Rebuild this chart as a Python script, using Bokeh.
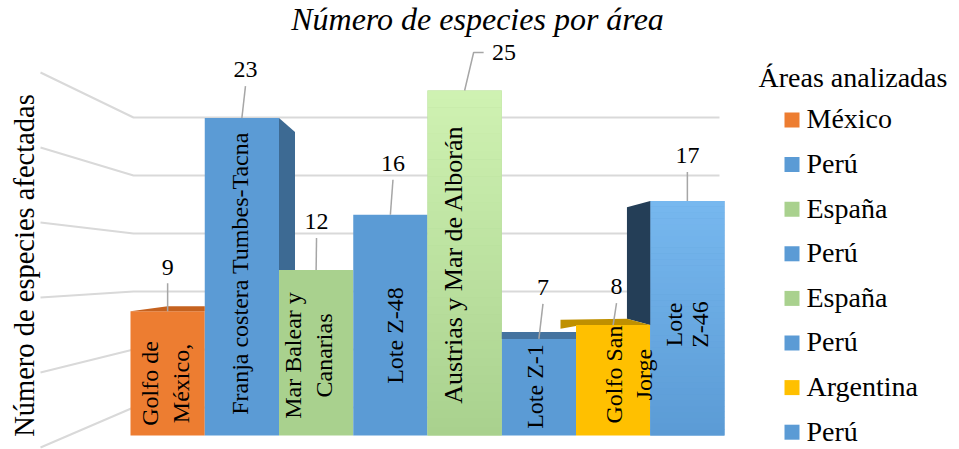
import math
from bokeh.plotting import figure
from bokeh.models import Range1d, ColumnDataSource
from bokeh.core.properties import value
from bokeh.embed import file_html
from bokeh.resources import INLINE

# ---------------- data ----------------
categories = ["Golfo de México,", "Franja costera Tumbes-Tacna", "Mar Balear y Canarias",
              "Lote Z-48", "Austrias y Mar de Alborán", "Lote Z-1", "Golfo San Jorge", "Lote Z-46"]
bar_label_lines = [["Golfo de", "México,"], ["Franja costera Tumbes-Tacna"], ["Mar Balear y", "Canarias"],
                   ["Lote Z-48"], ["Austrias y Mar de Alborán"], ["Lote Z-1"], ["Golfo San", "Jorge"],
                   ["Lote", "Z-46"]]
countries = ["México", "Perú", "España", "Perú", "España", "Perú", "Argentina", "Perú"]
values = [9, 23, 12, 16, 25, 7, 8, 17]
grid_values = [0, 5, 10, 15, 20, 25]
title_text = "Número de especies por área"
y_title_text = "Número de especies afectadas"
legend_title_text = "Áreas analizadas"

# ---------------- style ----------------
country_colors = {"México": "#ED7D31", "Perú": "#5B9BD5", "España": "#A9D18E", "Argentina": "#FFC000"}
light_top = [None, None, None, None, "#CFF2B2", None, None, "#77B8EF"]
SERIF = value("Liberation Serif")
W, H = 959, 449
X0, BW = 130.0, 74.25      # px of first bar left edge, px per bar
Y0, SY = 435.0, 13.8       # px of baseline, px per unit
BASE_CORR = 0.34           # renderer baseline correction (em)


def X(px):
    return (px - X0) / BW


def Y(py):
    return (Y0 - py) / SY


def dx(px):
    return px / BW


def dy(px):
    return px / SY


p = figure(width=W, height=H, x_range=Range1d(X(0), X(W)), y_range=Range1d(Y(H), Y(0)),
           output_backend="svg", toolbar_location=None, min_border=0,
           x_axis_location=None, y_axis_location=None)
p.outline_line_color = None
p.background_fill_color = "white"
p.border_fill_color = "white"
p.grid.visible = False

# ---------------- 3D walls / gridlines ----------------
BACK_Y0, BACK_SY = 407.0, 11.6
SIDE_X, SIDE_Y0, SIDE_SY = 40.0, 447.0, 15.0
WALL_X, WALL_END = 133.0, 719.0
gxs, gys = [], []
for g in grid_values:
    by = Y(BACK_Y0 - BACK_SY * g)
    sy = Y(SIDE_Y0 - SIDE_SY * g)
    gxs.append([X(SIDE_X), X(WALL_X), X(WALL_END)])
    gys.append([sy, by, by])
p.multi_line(gxs, gys, line_color="#D9D9D9", line_width=2)

# ---------------- bars ----------------
n = len(values)
bar_src = ColumnDataSource(dict(
    left=[i for i in range(n)], right=[i + 1 for i in range(n)],
    bottom=[0] * n, top=values,
    color=[country_colors[c] for c in countries]))
p.quad(left="left", right="right", bottom="bottom", top="top", source=bar_src,
       fill_color="color", line_color=None)


def hex2rgb(h):
    h = h.lstrip("#")
    return [int(h[k:k + 2], 16) for k in (0, 2, 4)]


def mix(a, b, t):
    ca, cb = hex2rgb(a), hex2rgb(b)
    return "#%02x%02x%02x" % tuple(int(round(ca[k] + (cb[k] - ca[k]) * t)) for k in range(3))


NS = 40
gl, gr, gb, gt, gc = [], [], [], [], []
for i, tc in enumerate(light_top):
    if tc is None:
        continue
    base = country_colors[countries[i]]
    v = values[i]
    for k in range(NS):
        t0, t1 = k / NS, (k + 1) / NS
        gl.append(i); gr.append(i + 1)
        gb.append(v * t0); gt.append(min(v, v * t1 + 0.02))
        gc.append(mix(base, tc, (t0 + t1) / 2))
p.quad(left=gl, right=gr, bottom=gb, top=gt, fill_color=gc, line_color=None)

# depth faces
fx, fy, fc = [], [], []
v = values[0]
fx.append([0, 1, 1, 0.5]); fy.append([v, v, v + dy(5), v + dy(5)]); fc.append("#C5621F")
v = values[1]
fx.append([2, 2 + dx(16), 2 + dx(16), 2]); fy.append([v, v - dy(14), values[2], values[2]]); fc.append("#3D6A93")
v = values[5]
fx.append([5, 6, 6, 5]); fy.append([v, v, v + dy(7), v + dy(7)]); fc.append("#44739F")
v = values[7]
fx.append([7, 7 - dx(23.3), 7 - dx(23.3), 7]); fy.append([v, v - dy(6.3), values[6] + dy(6.3), values[6]]); fc.append("#243E57")
v = values[6]
fx.append([6, 7, 7 - dx(23.3), 6 - dx(15.5), 6 - dx(15.5), 6])
fy.append([v, v, v + dy(6.3), v + dy(5.3), v - dy(3.7), v - dy(1)]); fc.append("#BF9000")
p.patches(fx, fy, fill_color=fc, line_color=None)

# ---------------- labels inside bars (rotated) ----------------
line_base_off = [[-9, 22], [6.6], [-14.6, 16.4], [13.1], [-2.1], [4.6], [9.4, 39.4], [-4.9, 21.1]]
label_center_px = [383, 273, 355, 335, 264, 386, 374, 324]
label_font_px = [24, 24, 24, 24, 26, 24, 24, 24]
tx, ty, tt, ts = [], [], [], []
for i, lines in enumerate(bar_label_lines):
    for j, ln in enumerate(lines):
        tx.append(i + 0.5 + dx(line_base_off[i][j] - BASE_CORR * label_font_px[i]))
        ty.append(Y(label_center_px[i]))
        tt.append(ln)
        ts.append("%dpx" % label_font_px[i])
p.text(x="x", y="y", text="t", text_font_size="s",
       source=ColumnDataSource(dict(x=tx, y=ty, t=tt, s=ts)),
       angle=math.pi / 2, text_align="center", text_baseline="alphabetic",
       text_font=SERIF, text_color="#000000")

# ---------------- value labels with leader lines ----------------
VAL_FS = 24
label_dx = [0, 3.6, 0.4, 2.6, 39.4, 4.1, 3.4, 0]
label_rise = [36, 40, 40, 43, 30, 43, 30, 37]
lx, ly = [], []
vx, vy = [], []
for i, v in enumerate(values):
    cx = i + 0.5
    vx.append(cx + dx(label_dx[i]))
    vy.append(v + dy(label_rise[i] + BASE_CORR * VAL_FS))
    if i == 4:
        lx.append([cx, cx + dx(9), cx + dx(19)])
        ly.append([v, v + dy(label_rise[i] + 8), v + dy(label_rise[i] + 8)])
    else:
        lx.append([cx, cx + dx(label_dx[i])])
        ly.append([v, v + dy(label_rise[i] - 8)])
p.multi_line(lx, ly, line_color="#A6A6A6", line_width=1.5)
p.text(x=vx, y=vy, text=[str(v) for v in values], text_align="center", text_baseline="alphabetic",
       text_font=SERIF, text_font_size="%dpx" % VAL_FS, text_color="#000000")

# ---------------- titles ----------------
TITLE_FS = 32
p.text(x=[X(477)], y=[Y(29 - BASE_CORR * TITLE_FS)], text=[title_text], text_align="center",
       text_baseline="alphabetic", text_font=SERIF, text_font_style="italic",
       text_font_size="%dpx" % TITLE_FS, text_color="#000000")
AX_FS = 28.5
p.text(x=[X(33.5 - BASE_CORR * AX_FS)], y=[Y(265)], text=[y_title_text], angle=math.pi / 2,
       text_align="center", text_baseline="alphabetic", text_font=SERIF,
       text_font_size="%spx" % AX_FS, text_color="#000000")

# ---------------- legend ----------------
LEG_FS = 28
LEG_B0, LEG_STEP = 128.0, 44.6
p.text(x=[X(758)], y=[Y(87 - BASE_CORR * LEG_FS)], text=[legend_title_text], text_align="left",
       text_baseline="alphabetic", text_font=SERIF, text_font_size="%dpx" % LEG_FS, text_color="#000000")
p.scatter(x=[X(791.5)] * n, y=[Y(LEG_B0 + LEG_STEP * k - 8.5) for k in range(n)], marker="square", size=15,
          fill_color=[country_colors[c] for c in countries], line_color=None)
p.text(x=[X(806)] * n, y=[Y(LEG_B0 + LEG_STEP * k - BASE_CORR * LEG_FS) for k in range(n)], text=countries,
       text_align="left", text_baseline="alphabetic", text_font=SERIF, text_font_size="%dpx" % LEG_FS,
       text_color="#000000")

open("out.html", "w").write(file_html(p, INLINE))
